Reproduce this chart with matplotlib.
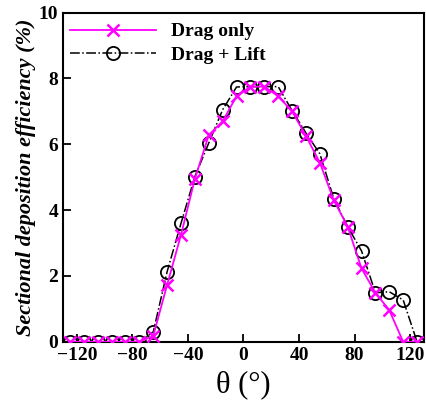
import matplotlib
matplotlib.use("Agg")
import matplotlib.pyplot as plt

theta = [-125, -115, -105, -95, -85, -75, -65, -55, -45, -35, -25, -15, -5,
         5, 15, 25, 35, 45, 55, 65, 75, 85, 95, 105, 115, 125]
drag_only = [0, 0, 0, 0, 0, 0, 0.18, 1.73, 3.25, 4.95, 6.28, 6.70, 7.46,
             7.75, 7.75, 7.46, 7.00, 6.25, 5.44, 4.30, 3.50, 2.23, 1.49, 0.96, 0, 0]
drag_lift = [0, 0, 0, 0, 0, 0, 0.30, 2.13, 3.60, 5.02, 6.04, 7.05, 7.74,
             7.75, 7.75, 7.75, 7.02, 6.34, 5.71, 4.35, 3.50, 2.76, 1.49, 1.52, 1.27, 0]
xticks = [-120, -80, -40, 0, 40, 80, 120]
yticks = [0, 2, 4, 6, 8, 10]

plt.rcParams['font.family'] = ['Liberation Serif', 'DejaVu Serif']

fig = plt.figure(figsize=(4.27, 4.05), dpi=100)
ax = fig.add_axes([0.1475, 0.156, 0.8455, 0.813])

ax.plot(theta, drag_only, color='#ff00ff', lw=1.3, marker='x', ms=8, mew=1.8,
        label='Drag only', zorder=3)
ax.plot(theta, drag_lift, color='black', lw=1.1, ls='-.', marker='o', ms=9.5,
        mfc='none', mec='black', mew=1.3, label='Drag + Lift', zorder=2)

ax.set_xlim(-130, 130)
ax.set_ylim(0, 10)
ax.set_xticks(xticks)
ax.set_yticks(yticks)
ax.tick_params(direction='in', length=6, width=1.3, labelsize=14, top=False, right=False)
for lab in ax.get_xticklabels() + ax.get_yticklabels():
    lab.set_fontweight('bold')
for sp in ax.spines.values():
    sp.set_linewidth(1.5)

ax.set_xlabel('θ (°)', fontsize=22, labelpad=5)
ax.set_ylabel('Sectional deposition efficiency (%)', fontsize=16, fontweight='bold',
              fontstyle='italic', labelpad=2)

leg = ax.legend(loc='upper left', bbox_to_anchor=(0.02, 0.969), frameon=False,
                borderpad=0, borderaxespad=0, handlelength=4.4, handletextpad=0.8,
                labelspacing=0.3, prop={'weight': 'bold', 'size': 14})

fig.savefig('out.png', dpi=100)
